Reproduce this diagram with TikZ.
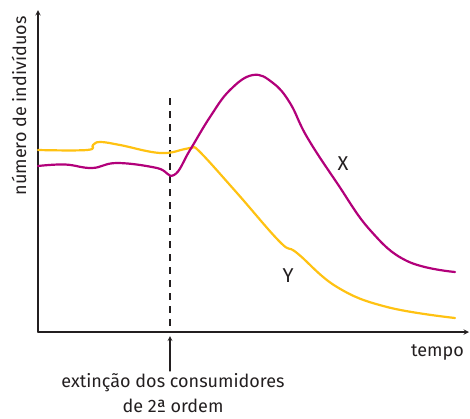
\documentclass[tikz,border=0pt]{standalone}
\usepackage{fontspec}
\setmainfont{Fira Sans}
\definecolor{curvaX}{RGB}{178,0,122}
\definecolor{curvaY}{RGB}{255,194,18}
\definecolor{eixo}{RGB}{35,31,32}
\begin{document}
\begin{tikzpicture}[x=1pt, y=-1pt, font=\fontsize{18}{25}\selectfont, line join=round, line cap=round, >=stealth]
			\useasboundingbox (0,0) rectangle (470,418);
			\def\xO{38}\def\yO{332}\def\xext{170}
			\coordinate (O) at (\xO,\yO);
			\coordinate (xfim) at (469,\yO);
			\coordinate (yfim) at (\xO,10);
			\draw[eixo, line width=1.4pt, ->] (O)--(xfim);
			\draw[eixo, line width=1.4pt, ->] (O)--(yfim);
			\node[eixo, anchor=base east, inner sep=0] (tempo) at (464,356) {tempo};
			\node[eixo, anchor=base, rotate=90, inner sep=0] (num) at (26,106) {número de indivíduos};
			\draw[eixo, line width=1.3pt, line cap=butt, dash pattern=on 7pt off 6pt] (\xext,98)--(\xext,\yO);
			\node[eixo, anchor=north, align=center, inner sep=0] (ext) at (173,373) {extinção dos consumidores\\de 2ª ordem};
			\coordinate (seta) at (\xext,\yO+4);
			\draw[eixo, line width=1.2pt, ->] (\xext,371)--(seta);
			% curva Y
			\draw[curvaY, line width=2.2pt, smooth, tension=0.7] plot coordinates {(\xO,150) (87,150) (93,145) (100,142) (120,145) (160,153) (185,149) (192,148) (200,152) (237,193) (280,242) (297,253) (337,287) (387,307) (455,318)};
			% curva X
			\draw[curvaX, line width=2.2pt, smooth, tension=0.7] plot coordinates {(\xO,166) (65,164.5) (92,168) (117,163) (157,168) (174,175) (190,150) (210,117) (230,90) (253,75) (273,83) (290,103) (307,137) (337,183) (370,230) (407,261) (455,272)};
			\node[eixo, font=\fontsize{20}{24}\selectfont] (X) at (343,164) {X};
			\node[eixo, font=\fontsize{20}{24}\selectfont] (Y) at (288,276) {Y};
		\end{tikzpicture}
\end{document}
